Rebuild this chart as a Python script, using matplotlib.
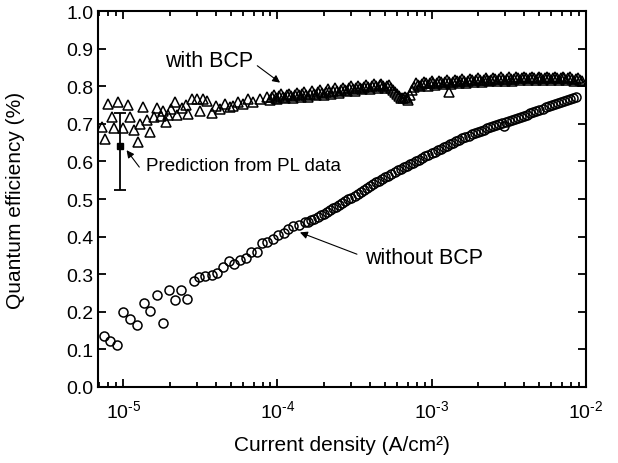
import numpy as np
import matplotlib
matplotlib.use("Agg")
import matplotlib.pyplot as plt
from matplotlib.ticker import FixedLocator, LogLocator, NullFormatter, FixedFormatter

plt.rcParams['font.family'] = ['Liberation Sans', 'DejaVu Sans']
plt.rcParams['mathtext.fontset'] = 'custom'
plt.rcParams['mathtext.rm'] = 'Liberation Sans'
plt.rcParams['mathtext.it'] = 'Liberation Sans:italic'

# device with BCP layer: log10 of current density (A/cm2) and quantum efficiency
log_j_bcp = [-5.140, -5.119, -5.101, -5.075, -5.058, -5.036, -5.000, -4.971, -4.955, -4.929,
             -4.906, -4.892, -4.870, -4.848, -4.827, -4.801, -4.783, -4.757, -4.744, -4.723,
             -4.708, -4.690, -4.664, -4.649, -4.621, -4.593, -4.578, -4.556, -4.523, -4.502,
             -4.481, -4.458, -4.422, -4.400, -4.372, -4.340, -4.307, -4.286, -4.253, -4.221,
             -4.188, -4.156, -4.112, -4.069,
             -4.050, -4.025, -4.000, -3.975, -3.950, -3.925, -3.900, -3.875, -3.850, -3.825,
             -3.800, -3.775, -3.750, -3.725, -3.700, -3.675, -3.650, -3.625, -3.600, -3.575,
             -3.550, -3.525, -3.500, -3.475, -3.450, -3.425, -3.400, -3.375, -3.350, -3.325,
             -3.300, -3.275, -3.250, -3.225, -3.200, -3.175, -3.150, -3.125, -3.100, -3.075,
             -3.050, -3.025, -3.000, -2.975, -2.950, -2.925, -2.900, -2.875, -2.850, -2.825,
             -2.800, -2.775, -2.750, -2.725, -2.700, -2.675, -2.650, -2.625, -2.600, -2.575,
             -2.550, -2.525, -2.500, -2.475, -2.450, -2.425, -2.400, -2.375, -2.350, -2.325,
             -2.300, -2.275, -2.250, -2.225, -2.200, -2.175, -2.150, -2.125, -2.100, -2.075,
             -2.050, -2.025, -2.889,
             -4.0375, -4.0125, -3.9875, -3.9625, -3.9375, -3.9125, -3.8875, -3.8625, -3.8375, -3.8125,
             -3.7875, -3.7625, -3.7375, -3.7125, -3.6875, -3.6625, -3.6375, -3.6125, -3.5875, -3.5625,
             -3.5375, -3.5125, -3.4875, -3.4625, -3.4375, -3.4125, -3.3875, -3.3625, -3.3375, -3.3125,
             -3.2875, -3.2625, -3.2375, -3.2125, -3.1875, -3.1625, -3.1375, -3.1125, -3.0875, -3.0625,
             -3.0375, -3.0125, -2.9875, -2.9625, -2.9375, -2.9125, -2.8875, -2.8625, -2.8375, -2.8125,
             -2.7875, -2.7625, -2.7375, -2.7125, -2.6875, -2.6625, -2.6375, -2.6125, -2.5875, -2.5625,
             -2.5375, -2.5125, -2.4875, -2.4625, -2.4375, -2.4125, -2.3875, -2.3625, -2.3375, -2.3125,
             -2.2875, -2.2625, -2.2375, -2.2125, -2.1875, -2.1625, -2.1375, -2.1125, -2.0875, -2.0625,
             -2.0375]
qe_bcp = [0.693, 0.660, 0.753, 0.718, 0.689, 0.759, 0.689, 0.750, 0.719, 0.684,
          0.653, 0.700, 0.744, 0.711, 0.679, 0.718, 0.742, 0.722, 0.735, 0.704,
          0.724, 0.740, 0.758, 0.725, 0.742, 0.750, 0.726, 0.766, 0.766, 0.735,
          0.766, 0.762, 0.728, 0.749, 0.740, 0.753, 0.744, 0.749, 0.758, 0.753,
          0.766, 0.758, 0.766, 0.771,
          0.764, 0.776, 0.766, 0.779, 0.769, 0.780, 0.770, 0.782, 0.772, 0.784,
          0.773, 0.787, 0.776, 0.790, 0.778, 0.792, 0.781, 0.795, 0.783, 0.797,
          0.787, 0.800, 0.789, 0.802, 0.792, 0.804, 0.794, 0.806, 0.796, 0.807,
          0.797, 0.804, 0.790, 0.780, 0.768, 0.772, 0.764, 0.790, 0.808, 0.800,
          0.812, 0.802, 0.814, 0.804, 0.815, 0.806, 0.816, 0.807, 0.818, 0.808,
          0.819, 0.810, 0.820, 0.811, 0.821, 0.812, 0.822, 0.813, 0.823, 0.814,
          0.824, 0.815, 0.824, 0.815, 0.825, 0.816, 0.825, 0.816, 0.826, 0.817,
          0.826, 0.817, 0.826, 0.817, 0.826, 0.817, 0.826, 0.816, 0.825, 0.815,
          0.823, 0.813, 0.784,
          0.771, 0.769, 0.774, 0.772, 0.776, 0.774, 0.777, 0.776, 0.779, 0.777,
          0.781, 0.780, 0.784, 0.782, 0.786, 0.785, 0.789, 0.788, 0.791, 0.791,
          0.795, 0.794, 0.797, 0.796, 0.799, 0.798, 0.801, 0.800, 0.803, 0.801,
          0.801, 0.797, 0.786, 0.774, 0.768, 0.770, 0.778, 0.799, 0.805, 0.806,
          0.808, 0.808, 0.810, 0.810, 0.811, 0.811, 0.812, 0.812, 0.813, 0.814,
          0.815, 0.815, 0.816, 0.816, 0.817, 0.817, 0.818, 0.818, 0.819, 0.819,
          0.820, 0.820, 0.820, 0.820, 0.821, 0.821, 0.821, 0.821, 0.822, 0.822,
          0.822, 0.822, 0.822, 0.822, 0.822, 0.822, 0.821, 0.821, 0.820, 0.819,
          0.818]

# device without BCP
log_j_nobcp = [-5.125, -5.086, -5.043, -5.000, -4.956, -4.913, -4.866, -4.827, -4.783, -4.744,
               -4.705, -4.664, -4.625, -4.584, -4.541, -4.506, -4.469, -4.426, -4.390, -4.351,
               -4.314, -4.279, -4.242, -4.205, -4.171, -4.130, -4.101, -4.065, -4.026, -3.994,
               -3.956, -3.929, -3.896, -3.859, -3.820,
               -3.80, -3.78, -3.76, -3.74, -3.72, -3.70, -3.68, -3.66, -3.64, -3.62,
               -3.60, -3.58, -3.56, -3.54, -3.52, -3.50, -3.48, -3.46, -3.44, -3.42,
               -3.40, -3.38, -3.36, -3.34, -3.32, -3.30, -3.28, -3.26, -3.24, -3.22,
               -3.20, -3.18, -3.16, -3.14, -3.12, -3.10, -3.08, -3.06, -3.04, -3.02,
               -3.00, -2.98, -2.96, -2.94, -2.92, -2.90, -2.88, -2.86, -2.84, -2.82,
               -2.80, -2.78, -2.76, -2.74, -2.72, -2.70, -2.68, -2.66, -2.64, -2.62,
               -2.60, -2.58, -2.56, -2.54, -2.52, -2.50, -2.48, -2.46, -2.44, -2.42,
               -2.40, -2.38, -2.36, -2.34, -2.32, -2.30, -2.28, -2.26, -2.24, -2.22,
               -2.20, -2.18, -2.16, -2.14, -2.12, -2.10, -2.08, -2.06, -2.53]
qe_nobcp = [0.134, 0.121, 0.111, 0.200, 0.180, 0.164, 0.223, 0.201, 0.245, 0.169,
            0.258, 0.232, 0.258, 0.233, 0.282, 0.291, 0.295, 0.297, 0.302, 0.320,
            0.335, 0.326, 0.338, 0.344, 0.359, 0.359, 0.382, 0.386, 0.393, 0.403,
            0.409, 0.421, 0.428, 0.430, 0.439,
            0.440, 0.444, 0.448, 0.453, 0.457, 0.461, 0.466, 0.470, 0.475, 0.479,
            0.484, 0.489, 0.494, 0.499, 0.504, 0.509, 0.514, 0.519, 0.524, 0.529,
            0.534, 0.539, 0.544, 0.548, 0.553, 0.558, 0.562, 0.567, 0.571, 0.576,
            0.580, 0.584, 0.589, 0.593, 0.597, 0.601, 0.605, 0.610, 0.614, 0.618,
            0.622, 0.626, 0.630, 0.634, 0.638, 0.642, 0.646, 0.650, 0.654, 0.658,
            0.662, 0.665, 0.669, 0.672, 0.676, 0.679, 0.682, 0.685, 0.688, 0.691,
            0.694, 0.697, 0.700, 0.702, 0.705, 0.708, 0.711, 0.714, 0.716, 0.719,
            0.722, 0.725, 0.728, 0.732, 0.735, 0.738, 0.741, 0.744, 0.747, 0.750,
            0.753, 0.756, 0.758, 0.761, 0.763, 0.766, 0.769, 0.772, 0.694]

# PL prediction with asymmetric error bar
j_pl = 9.55e-6
qe_pl = 0.64
err_pl = [[0.115], [0.09]]

x_ticks = [1e-5, 1e-4, 1e-3, 1e-2]
x_labels = ['$\\mathregular{10^{\u20105}}$', '$\\mathregular{10^{\u20104}}$',
            '$\\mathregular{10^{\u20103}}$', '$\\mathregular{10^{\u20102}}$']

j_bcp = 10.0 ** np.array(log_j_bcp)
j_nobcp = 10.0 ** np.array(log_j_nobcp)

fig = plt.figure(figsize=(6.18, 4.64), dpi=100)
ax = fig.add_axes([0.1581, 0.1644, 0.7896, 0.8091])

ax.plot(j_bcp, qe_bcp, linestyle='none', marker='^', ms=6.5, mfc='none',
        mec='black', mew=1.1)
ax.plot(j_nobcp, qe_nobcp, linestyle='none', marker='o', ms=6.5, mfc='none',
        mec='black', mew=1.1)
ax.errorbar([j_pl], [qe_pl], yerr=err_pl, fmt='s', ms=5, color='black',
            capsize=4.5, elinewidth=1.3, capthick=1.3)

ax.set_xscale('log')
ax.set_xlim(6.82e-6, 1e-2)
ax.set_ylim(0.0, 1.0)

ax.xaxis.set_major_locator(FixedLocator(x_ticks))
ax.xaxis.set_major_formatter(FixedFormatter(x_labels))
ax.xaxis.set_minor_locator(LogLocator(base=10, subs=np.arange(2, 10)))
ax.xaxis.set_minor_formatter(NullFormatter())
yt = np.round(np.arange(0, 1.01, 0.1), 1)
ax.set_yticks(yt)
ax.set_yticklabels([f'{v:.1f}' for v in yt])

ax.tick_params(which='both', direction='in', top=True, right=True, width=1.3)
ax.tick_params(which='major', length=6)
ax.tick_params(which='minor', length=3.5)
ax.tick_params(axis='x', which='major', labelsize=14, pad=9)
ax.tick_params(axis='y', labelsize=14, pad=3)
for s in ax.spines.values():
    s.set_linewidth(1.5)

ax.set_xlabel('Current density (A/cm²)', fontsize=15)
ax.set_ylabel('Quantum efficiency (%)', fontsize=15)
ax.xaxis.set_label_coords(0.5, -0.128)
ax.yaxis.set_label_coords(-0.15, 0.5)

arrow = dict(arrowstyle='-|>', lw=0.8, color='black', mutation_scale=11,
             shrinkA=0, shrinkB=0)
ax.text(3.6e-5, 0.868, 'with BCP', fontsize=15.5, ha='center', va='center')
ax.annotate('', xy=(1.04e-4, 0.810), xytext=(7.4e-5, 0.855), arrowprops=arrow)
ax.text(1.40e-5, 0.589, 'Prediction from PL data', fontsize=13.5, ha='left', va='center')
ax.annotate('', xy=(1.05e-5, 0.630), xytext=(1.27e-5, 0.585), arrowprops=arrow)
ax.text(3.71e-4, 0.345, 'without BCP', fontsize=15.5, ha='left', va='center')
ax.annotate('', xy=(1.40e-4, 0.411), xytext=(3.28e-4, 0.353), arrowprops=arrow)

fig.savefig('out.png', dpi=100)
